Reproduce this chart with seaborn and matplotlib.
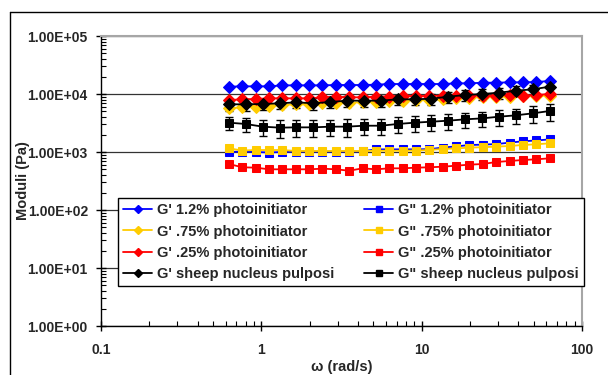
import matplotlib
matplotlib.use("Agg")
import matplotlib.pyplot as plt
import matplotlib.ticker as ticker
from matplotlib.lines import Line2D
import seaborn as sns
import pandas as pd

# frequency sweeps (rad/s)
w_gel = [0.628, 0.761, 0.922, 1.117, 1.353, 1.639, 1.986, 2.406, 2.915, 3.531,
         4.278, 5.183, 6.28, 7.61, 9.22, 11.17, 13.53, 16.39, 19.86, 24.06,
         29.15, 35.31, 42.78, 51.83, 62.8]
w_sheep = [0.628, 0.800, 1.020, 1.300, 1.656, 2.110, 2.689, 3.427, 4.367, 5.565,
           7.091, 9.036, 11.51, 14.67, 18.70, 23.83, 30.36, 38.69, 49.30, 62.8]

# moduli (Pa)
gp_12 = [13370, 13560, 13560, 13560, 14100, 14100, 14100, 14100, 14290, 14290,
         14290, 14480, 14870, 14870, 14870, 14870, 14870, 15270, 15270, 15670,
         15670, 15890, 15890, 16100, 16760]
gpp_12 = [1000, 1020, 1000, 980, 1000, 1020, 1020, 1020, 1020, 1020,
          1030, 1110, 1110, 1110, 1110, 1120, 1190, 1250, 1320, 1340,
          1370, 1450, 1530, 1580, 1650]
gp_75 = [5660, 5890, 6050, 6210, 6460, 6640, 6640, 6910, 6910, 7090,
         7190, 7380, 7570, 7680, 7880, 7880, 8090, 8420, 8650, 8770,
         8880, 8990, 9110, 9240, 9360]
gpp_75 = [1157, 1060, 1082, 1082, 1082, 1041, 1041, 1041, 1041, 1041,
          1041, 1050, 1050, 1050, 1060, 1082, 1130, 1150, 1190, 1210,
          1236, 1270, 1320, 1360, 1410]
gp_25 = [7880, 8090, 8200, 8420, 8420, 8420, 8420, 8770, 8990, 8770,
         8770, 8990, 8990, 9240, 9240, 9240, 9360, 9360, 9360, 9360,
         9360, 9610, 9360, 9610, 10000]
gpp_25 = [621, 545, 537, 503, 503, 503, 503, 516, 503, 476,
          523, 503, 523, 523, 537, 545, 558, 581, 605, 621,
          672, 700, 728, 748, 778]
gp_sheep = [6640, 6640, 6730, 6910, 7190, 6910, 7280, 7680, 7680, 7680,
            8100, 8100, 8310, 9000, 9610, 10000, 10540, 11400, 12030, 13380]
gp_sheep_err = [1500, 1500, 1500, 1500, 1550, 1550, 1600, 1600, 1650, 1700,
                1700, 1750, 1800, 1900, 2000, 2100, 2200, 2300, 2400, 2500]
gpp_sheep = [3205, 3040, 2735, 2630, 2660, 2660, 2735, 2735, 2840, 2840,
             3040, 3205, 3330, 3470, 3660, 3800, 4060, 4290, 4640, 5090]
gpp_sheep_err = [800, 850, 850, 900, 850, 850, 850, 900, 900, 900,
                 950, 1000, 1000, 1050, 1100, 1150, 1200, 1300, 1450, 1700]

sns.set_style("white")
plt.rcParams['font.family'] = ['Liberation Sans', 'DejaVu Sans']
plt.rcParams['font.weight'] = 'bold'

fig = plt.figure(figsize=(6.08, 3.75), dpi=100)
ax = fig.add_axes([101 / 608, 49 / 375, 481 / 608, 290 / 375])

series = [
    ("G' 1.2% photoinitiator", w_gel, gp_12, '#0000FF', 'D', None),
    ('G" 1.2% photoinitiator', w_gel, gpp_12, '#0000FF', 's', None),
    ("G' .75% photoinitiator", w_gel, gp_75, '#FFCC00', 'D', None),
    ('G" .75% photoinitiator', w_gel, gpp_75, '#FFCC00', 's', None),
    ("G' .25% photoinitiator", w_gel, gp_25, '#FF0000', 'D', None),
    ('G" .25% photoinitiator', w_gel, gpp_25, '#FF0000', 's', None),
    ("G' sheep nucleus pulposi", w_sheep, gp_sheep, '#000000', 'D', gp_sheep_err),
    ('G" sheep nucleus pulposi', w_sheep, gpp_sheep, '#000000', 's', gpp_sheep_err),
]

handles = {}
for name, x, y, col, mk, err in series:
    df = pd.DataFrame({'w': x, 'G': y})
    if err is not None:
        ax.errorbar(x, y, yerr=err, fmt='none', ecolor='black', elinewidth=1,
                    capsize=3, capthick=1, zorder=2)
    sns.lineplot(data=df, x='w', y='G', ax=ax, color=col, marker=mk,
                 markersize=6.5 if mk == 'D' else 6, markeredgecolor=col,
                 linewidth=1.3, legend=False, zorder=3)
    handles[name] = Line2D([], [], color=col, marker=mk, markersize=4.5,
                           markeredgecolor=col, linewidth=1.3)

ax.set_xscale('log')
ax.set_yscale('log')
ax.set_xlim(0.1, 100)
ax.set_ylim(1, 1e5)

ax.xaxis.set_major_locator(ticker.LogLocator(base=10, numticks=10))
ax.xaxis.set_major_formatter(ticker.FuncFormatter(lambda v, p: f'{v:g}'))
ax.yaxis.set_major_locator(ticker.LogLocator(base=10, numticks=10))
ax.yaxis.set_major_formatter(ticker.FuncFormatter(lambda v, p: f'{v:.2E}'))
ax.xaxis.set_minor_locator(ticker.LogLocator(base=10, subs=range(2, 10), numticks=20))
ax.yaxis.set_minor_locator(ticker.LogLocator(base=10, subs=range(2, 10), numticks=20))
ax.xaxis.set_minor_formatter(ticker.NullFormatter())
ax.yaxis.set_minor_formatter(ticker.NullFormatter())

ax.tick_params(which='major', direction='inout', length=7, width=1, color='black',
               labelsize=10, bottom=True, left=True)
ax.tick_params(axis='x', which='major', pad=9)
ax.tick_params(axis='y', which='major', pad=6)
ax.tick_params(which='minor', direction='in', length=3.5, width=0.8, color='black',
               bottom=True, left=True)
for lab in ax.get_xticklabels() + ax.get_yticklabels():
    lab.set_fontweight('bold')

ax.grid(True, which='major', axis='y', color='#333333', linewidth=0.9)
ax.grid(False, axis='x')
ax.set_axisbelow(True)

for s in ['left', 'bottom']:
    ax.spines[s].set_color('black')
    ax.spines[s].set_linewidth(1)
for s in ['top', 'right']:
    ax.spines[s].set_color('#a6a6a6')
    ax.spines[s].set_linewidth(1.5)

ax.set_xlabel('ω (rad/s)', fontsize=10.5, fontweight='bold')
ax.set_ylabel('Moduli (Pa)', fontsize=10.5, fontweight='bold')
ax.xaxis.set_label_coords(0.5, -0.116)
ax.yaxis.set_label_coords(-0.148, 0.5)

order = ["G' 1.2% photoinitiator", "G' .75% photoinitiator", "G' .25% photoinitiator",
         "G' sheep nucleus pulposi", 'G" 1.2% photoinitiator', 'G" .75% photoinitiator',
         'G" .25% photoinitiator', 'G" sheep nucleus pulposi']
leg = ax.legend([handles[k] for k in order], order, ncol=2, loc='upper left',
                bbox_to_anchor=(0.035, 0.134, 0.969, 0.307), mode='expand',
                fontsize=10.5, frameon=True, fancybox=False, edgecolor='black',
                framealpha=1, borderpad=0.35, labelspacing=0.5, handlelength=2,
                handletextpad=0.35, columnspacing=1.0, borderaxespad=0)
leg.get_frame().set_linewidth(1)
for t in leg.get_texts():
    t.set_fontweight('bold')

# outer chart frame
fig.add_artist(Line2D([9.5 / 608, 9.5 / 608], [0, 1 - 11.5 / 375], color='black', lw=1))
fig.add_artist(Line2D([9.5 / 608, 1], [1 - 11.5 / 375, 1 - 11.5 / 375], color='black', lw=1))

fig.savefig('out.png', dpi=100)
